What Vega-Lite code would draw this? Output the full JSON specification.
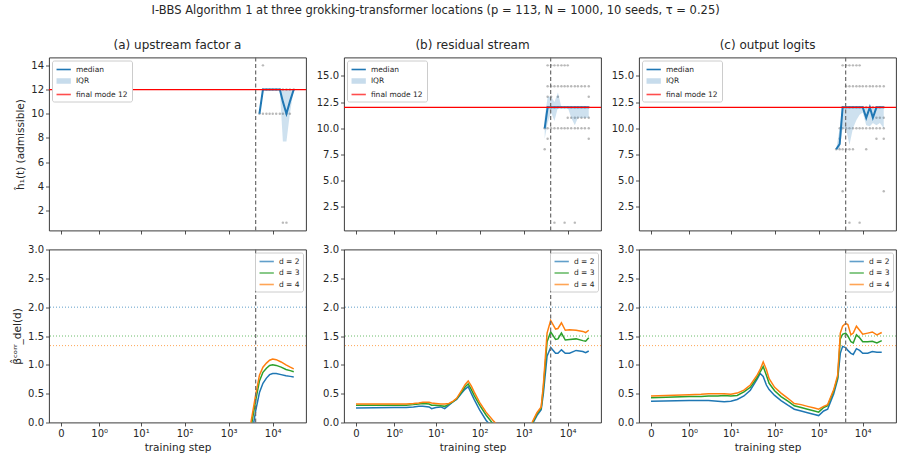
{
"$schema": "https://vega.github.io/schema/vega-lite/v6.json",
"autosize": {"type": "none"},
"padding": {"left": 49, "top": 57.5, "right": 854, "bottom": 404.5},
"background": "white",
"title": {"text": "I-BBS Algorithm 1 at three grokking-transformer locations (p = 113, N = 1000, 10 seeds, τ = 0.25)", "fontSize": 11.5, "anchor": "middle", "dx": -19, "offset": 22},
"datasets": {
"grok": [{"s": 4100}],
"mode": [{"y": 12, "lab": "final mode 12"}],
"refs": [{"k": "d2", "y": 2}, {"k": "d3", "y": 1.5}, {"k": "d4", "y": 1.3333}],
"top": [
{"p":"a","s":5000,"med":10,"q1":10,"q3":10},
{"p":"a","s":6000,"med":12,"q1":12,"q3":12},
{"p":"a","s":7200,"med":12,"q1":12,"q3":12},
{"p":"a","s":8500,"med":12,"q1":12,"q3":12},
{"p":"a","s":10000,"med":12,"q1":12,"q3":12},
{"p":"a","s":12000,"med":12,"q1":12,"q3":12},
{"p":"a","s":14500,"med":12,"q1":12,"q3":12},
{"p":"a","s":17000,"med":11,"q1":7.7,"q3":12},
{"p":"a","s":20500,"med":10,"q1":7.7,"q3":12},
{"p":"a","s":24500,"med":11,"q1":10,"q3":12},
{"p":"a","s":30000,"med":12,"q1":12,"q3":12},
{"p":"b","s":3000,"med":10,"q1":9,"q3":11},
{"p":"b","s":3500,"med":12,"q1":10.5,"q3":13},
{"p":"b","s":4200,"med":12,"q1":11.5,"q3":13},
{"p":"b","s":5000,"med":12,"q1":10.7,"q3":12.5},
{"p":"b","s":6000,"med":12,"q1":12,"q3":13.4},
{"p":"b","s":7200,"med":12,"q1":12,"q3":12},
{"p":"b","s":8500,"med":12,"q1":12,"q3":12},
{"p":"b","s":10000,"med":12,"q1":12,"q3":12},
{"p":"b","s":12000,"med":12,"q1":11,"q3":12},
{"p":"b","s":14500,"med":12,"q1":10.3,"q3":12},
{"p":"b","s":17000,"med":12,"q1":11,"q3":12},
{"p":"b","s":20500,"med":12,"q1":11,"q3":12},
{"p":"b","s":24500,"med":12,"q1":11,"q3":12},
{"p":"b","s":30000,"med":12,"q1":11,"q3":12},
{"p":"c","s":2500,"med":8,"q1":8,"q3":8},
{"p":"c","s":3000,"med":8.5,"q1":8,"q3":10},
{"p":"c","s":3500,"med":12,"q1":10,"q3":12},
{"p":"c","s":4200,"med":12,"q1":9.9,"q3":12},
{"p":"c","s":5000,"med":12,"q1":8.4,"q3":12},
{"p":"c","s":6000,"med":12,"q1":10,"q3":12},
{"p":"c","s":7200,"med":12,"q1":10.8,"q3":12},
{"p":"c","s":8500,"med":12,"q1":11.3,"q3":12},
{"p":"c","s":10000,"med":12,"q1":11.5,"q3":12},
{"p":"c","s":12000,"med":11,"q1":10.3,"q3":12},
{"p":"c","s":14500,"med":12,"q1":10.2,"q3":12},
{"p":"c","s":17000,"med":11,"q1":10.5,"q3":12},
{"p":"c","s":20500,"med":12,"q1":10.3,"q3":12},
{"p":"c","s":24500,"med":12,"q1":10.5,"q3":12},
{"p":"c","s":30000,"med":12,"q1":10,"q3":12}
],
"pts": [
{"p":"a","s":5000,"v":10},{"p":"a","s":6000,"v":14},{"p":"a","s":6000,"v":12},{"p":"a","s":6000,"v":10},
{"p":"a","s":7200,"v":12},{"p":"a","s":7200,"v":10},{"p":"a","s":8500,"v":12},{"p":"a","s":8500,"v":10},
{"p":"a","s":10000,"v":12},{"p":"a","s":10000,"v":10},{"p":"a","s":12000,"v":12},{"p":"a","s":12000,"v":10},
{"p":"a","s":14500,"v":12},{"p":"a","s":14500,"v":10},{"p":"a","s":17000,"v":12},{"p":"a","s":17000,"v":10},
{"p":"a","s":17000,"v":1},{"p":"a","s":20500,"v":12},{"p":"a","s":20500,"v":10},{"p":"a","s":20500,"v":1},
{"p":"a","s":24500,"v":12},{"p":"a","s":24500,"v":10},{"p":"a","s":30000,"v":12},
{"p":"b","s":3000,"v":8},{"p":"b","s":3000,"v":10},
{"p":"b","s":3500,"v":9},{"p":"b","s":3500,"v":10},{"p":"b","s":3500,"v":12},{"p":"b","s":3500,"v":13},{"p":"b","s":3500,"v":14},{"p":"b","s":3500,"v":16},
{"p":"b","s":4200,"v":10},{"p":"b","s":4200,"v":12},{"p":"b","s":4200,"v":13},{"p":"b","s":4200,"v":14},{"p":"b","s":4200,"v":16},
{"p":"b","s":5000,"v":1},{"p":"b","s":5000,"v":10},{"p":"b","s":5000,"v":12},{"p":"b","s":5000,"v":14},{"p":"b","s":5000,"v":16},
{"p":"b","s":6000,"v":10},{"p":"b","s":6000,"v":12},{"p":"b","s":6000,"v":13},{"p":"b","s":6000,"v":14},{"p":"b","s":6000,"v":16},
{"p":"b","s":7200,"v":10},{"p":"b","s":7200,"v":12},{"p":"b","s":7200,"v":14},{"p":"b","s":7200,"v":16},
{"p":"b","s":8500,"v":1},{"p":"b","s":8500,"v":10},{"p":"b","s":8500,"v":12},{"p":"b","s":8500,"v":14},{"p":"b","s":8500,"v":16},
{"p":"b","s":10000,"v":10},{"p":"b","s":10000,"v":11},{"p":"b","s":10000,"v":12},{"p":"b","s":10000,"v":14},{"p":"b","s":10000,"v":16},
{"p":"b","s":12000,"v":10},{"p":"b","s":12000,"v":11},{"p":"b","s":12000,"v":12},{"p":"b","s":12000,"v":14},
{"p":"b","s":14500,"v":1},{"p":"b","s":14500,"v":10},{"p":"b","s":14500,"v":11},{"p":"b","s":14500,"v":12},{"p":"b","s":14500,"v":14},
{"p":"b","s":17000,"v":10},{"p":"b","s":17000,"v":11},{"p":"b","s":17000,"v":12},{"p":"b","s":17000,"v":14},
{"p":"b","s":20500,"v":10},{"p":"b","s":20500,"v":11},{"p":"b","s":20500,"v":12},{"p":"b","s":20500,"v":14},
{"p":"b","s":24500,"v":10},{"p":"b","s":24500,"v":11},{"p":"b","s":24500,"v":12},{"p":"b","s":24500,"v":14},
{"p":"b","s":30000,"v":9},{"p":"b","s":30000,"v":10},{"p":"b","s":30000,"v":11},{"p":"b","s":30000,"v":12},{"p":"b","s":30000,"v":13},{"p":"b","s":30000,"v":14},
{"p":"c","s":2500,"v":8},{"p":"c","s":3000,"v":8},{"p":"c","s":3000,"v":9},{"p":"c","s":3000,"v":10},
{"p":"c","s":3500,"v":4},{"p":"c","s":3500,"v":8},{"p":"c","s":3500,"v":10},{"p":"c","s":3500,"v":12},{"p":"c","s":3500,"v":16},
{"p":"c","s":4200,"v":8},{"p":"c","s":4200,"v":10},{"p":"c","s":4200,"v":12},{"p":"c","s":4200,"v":14},{"p":"c","s":4200,"v":16},
{"p":"c","s":5000,"v":1},{"p":"c","s":5000,"v":8},{"p":"c","s":5000,"v":10},{"p":"c","s":5000,"v":12},{"p":"c","s":5000,"v":14},{"p":"c","s":5000,"v":16},
{"p":"c","s":6000,"v":8},{"p":"c","s":6000,"v":10},{"p":"c","s":6000,"v":12},{"p":"c","s":6000,"v":14},{"p":"c","s":6000,"v":16},
{"p":"c","s":7200,"v":10},{"p":"c","s":7200,"v":12},{"p":"c","s":7200,"v":14},{"p":"c","s":7200,"v":16},
{"p":"c","s":8500,"v":1},{"p":"c","s":8500,"v":10},{"p":"c","s":8500,"v":12},{"p":"c","s":8500,"v":14},{"p":"c","s":8500,"v":16},
{"p":"c","s":10000,"v":10},{"p":"c","s":10000,"v":12},{"p":"c","s":10000,"v":14},
{"p":"c","s":12000,"v":8},{"p":"c","s":12000,"v":10},{"p":"c","s":12000,"v":12},{"p":"c","s":12000,"v":14},
{"p":"c","s":14500,"v":10},{"p":"c","s":14500,"v":12},{"p":"c","s":14500,"v":14},
{"p":"c","s":17000,"v":10},{"p":"c","s":17000,"v":12},{"p":"c","s":17000,"v":14},
{"p":"c","s":20500,"v":9},{"p":"c","s":20500,"v":10},{"p":"c","s":20500,"v":11},{"p":"c","s":20500,"v":12},{"p":"c","s":20500,"v":14},
{"p":"c","s":24500,"v":10},{"p":"c","s":24500,"v":11},{"p":"c","s":24500,"v":12},{"p":"c","s":24500,"v":14},
{"p":"c","s":30000,"v":4},{"p":"c","s":30000,"v":9},{"p":"c","s":30000,"v":10},{"p":"c","s":30000,"v":11},{"p":"c","s":30000,"v":12},{"p":"c","s":30000,"v":14}
],
"bot": [
{"p":"a","s":2500,"d2":-1.2,"d3":-1.0,"d4":-0.9},
{"p":"a","s":3200,"d2":-0.3,"d3":-0.1,"d4":0.0},
{"p":"a","s":4100,"d2":0.2,"d3":0.38,"d4":0.48},
{"p":"a","s":5000,"d2":0.52,"d3":0.72,"d4":0.82},
{"p":"a","s":6000,"d2":0.68,"d3":0.87,"d4":0.96},
{"p":"a","s":7200,"d2":0.77,"d3":0.94,"d4":1.03},
{"p":"a","s":8500,"d2":0.83,"d3":0.99,"d4":1.08},
{"p":"a","s":10000,"d2":0.85,"d3":1.0,"d4":1.1},
{"p":"a","s":12000,"d2":0.85,"d3":0.99,"d4":1.09},
{"p":"a","s":15500,"d2":0.83,"d3":0.96,"d4":1.05},
{"p":"a","s":20000,"d2":0.81,"d3":0.92,"d4":1.0},
{"p":"a","s":25000,"d2":0.8,"d3":0.9,"d4":0.96},
{"p":"a","s":30000,"d2":0.79,"d3":0.88,"d4":0.93},
{"p":"b","s":0,"d2":0.25,"d3":0.30,"d4":0.32},
{"p":"b","s":1,"d2":0.26,"d3":0.30,"d4":0.32},
{"p":"b","s":2,"d2":0.26,"d3":0.30,"d4":0.32},
{"p":"b","s":3,"d2":0.27,"d3":0.31,"d4":0.33},
{"p":"b","s":4,"d2":0.28,"d3":0.32,"d4":0.34},
{"p":"b","s":5,"d2":0.28,"d3":0.33,"d4":0.35},
{"p":"b","s":7,"d2":0.27,"d3":0.32,"d4":0.35},
{"p":"b","s":8,"d2":0.24,"d3":0.30,"d4":0.34},
{"p":"b","s":10,"d2":0.26,"d3":0.30,"d4":0.33},
{"p":"b","s":13,"d2":0.27,"d3":0.29,"d4":0.32},
{"p":"b","s":16,"d2":0.24,"d3":0.28,"d4":0.32},
{"p":"b","s":20,"d2":0.30,"d3":0.32,"d4":0.33},
{"p":"b","s":25,"d2":0.36,"d3":0.36,"d4":0.37},
{"p":"b","s":30,"d2":0.40,"d3":0.41,"d4":0.42},
{"p":"b","s":40,"d2":0.52,"d3":0.54,"d4":0.57},
{"p":"b","s":47,"d2":0.58,"d3":0.62,"d4":0.66},
{"p":"b","s":55,"d2":0.62,"d3":0.67,"d4":0.72},
{"p":"b","s":65,"d2":0.50,"d3":0.57,"d4":0.63},
{"p":"b","s":75,"d2":0.40,"d3":0.47,"d4":0.53},
{"p":"b","s":100,"d2":0.22,"d3":0.30,"d4":0.35},
{"p":"b","s":140,"d2":0.04,"d3":0.13,"d4":0.18},
{"p":"b","s":200,"d2":-0.10,"d3":-0.02,"d4":0.04},
{"p":"b","s":280,"d2":-0.20,"d3":-0.15,"d4":-0.08},
{"p":"b","s":400,"d2":-0.30,"d3":-0.25,"d4":-0.20},
{"p":"b","s":600,"d2":-0.35,"d3":-0.30,"d4":-0.25},
{"p":"b","s":900,"d2":-0.35,"d3":-0.30,"d4":-0.25},
{"p":"b","s":1300,"d2":-0.20,"d3":-0.18,"d4":-0.15},
{"p":"b","s":1600,"d2":-0.02,"d3":0.0,"d4":0.02},
{"p":"b","s":2000,"d2":0.12,"d3":0.15,"d4":0.17},
{"p":"b","s":2500,"d2":0.22,"d3":0.25,"d4":0.27},
{"p":"b","s":2800,"d2":0.50,"d3":0.60,"d4":0.65},
{"p":"b","s":3400,"d2":1.15,"d3":1.40,"d4":1.55},
{"p":"b","s":4100,"d2":1.30,"d3":1.57,"d4":1.77},
{"p":"b","s":5300,"d2":1.20,"d3":1.44,"d4":1.62},
{"p":"b","s":6000,"d2":1.20,"d3":1.45,"d4":1.63},
{"p":"b","s":7200,"d2":1.26,"d3":1.55,"d4":1.73},
{"p":"b","s":8800,"d2":1.20,"d3":1.43,"d4":1.60},
{"p":"b","s":11000,"d2":1.20,"d3":1.44,"d4":1.61},
{"p":"b","s":15500,"d2":1.25,"d3":1.45,"d4":1.60},
{"p":"b","s":22000,"d2":1.23,"d3":1.42,"d4":1.58},
{"p":"b","s":25500,"d2":1.21,"d3":1.41,"d4":1.56},
{"p":"b","s":30000,"d2":1.24,"d3":1.47,"d4":1.60},
{"p":"c","s":0,"d2":0.37,"d3":0.43,"d4":0.46},
{"p":"c","s":1,"d2":0.38,"d3":0.45,"d4":0.48},
{"p":"c","s":2,"d2":0.38,"d3":0.45,"d4":0.49},
{"p":"c","s":3,"d2":0.38,"d3":0.46,"d4":0.50},
{"p":"c","s":5,"d2":0.37,"d3":0.46,"d4":0.50},
{"p":"c","s":7,"d2":0.36,"d3":0.47,"d4":0.50},
{"p":"c","s":10,"d2":0.37,"d3":0.46,"d4":0.49},
{"p":"c","s":14,"d2":0.40,"d3":0.47,"d4":0.51},
{"p":"c","s":20,"d2":0.46,"d3":0.53,"d4":0.56},
{"p":"c","s":28,"d2":0.56,"d3":0.61,"d4":0.65},
{"p":"c","s":40,"d2":0.75,"d3":0.78,"d4":0.82},
{"p":"c","s":47,"d2":0.85,"d3":0.88,"d4":0.92},
{"p":"c","s":55,"d2":0.80,"d3":0.97,"d4":1.05},
{"p":"c","s":65,"d2":0.65,"d3":0.82,"d4":0.92},
{"p":"c","s":75,"d2":0.57,"d3":0.68,"d4":0.76},
{"p":"c","s":100,"d2":0.47,"d3":0.55,"d4":0.61},
{"p":"c","s":140,"d2":0.38,"d3":0.45,"d4":0.51},
{"p":"c","s":200,"d2":0.30,"d3":0.37,"d4":0.42},
{"p":"c","s":280,"d2":0.23,"d3":0.29,"d4":0.33},
{"p":"c","s":400,"d2":0.20,"d3":0.26,"d4":0.31},
{"p":"c","s":560,"d2":0.17,"d3":0.23,"d4":0.28},
{"p":"c","s":800,"d2":0.14,"d3":0.20,"d4":0.25},
{"p":"c","s":1000,"d2":0.12,"d3":0.18,"d4":0.23},
{"p":"c","s":1300,"d2":0.20,"d3":0.26,"d4":0.28},
{"p":"c","s":1600,"d2":0.23,"d3":0.29,"d4":0.31},
{"p":"c","s":2200,"d2":0.50,"d3":0.55,"d4":0.57},
{"p":"c","s":2700,"d2":0.75,"d3":0.78,"d4":0.82},
{"p":"c","s":3100,"d2":1.20,"d3":1.45,"d4":1.55},
{"p":"c","s":3500,"d2":1.32,"d3":1.53,"d4":1.67},
{"p":"c","s":4100,"d2":1.30,"d3":1.55,"d4":1.72},
{"p":"c","s":4600,"d2":1.25,"d3":1.50,"d4":1.70},
{"p":"c","s":5400,"d2":1.20,"d3":1.40,"d4":1.52},
{"p":"c","s":6100,"d2":1.18,"d3":1.38,"d4":1.55},
{"p":"c","s":7200,"d2":1.28,"d3":1.52,"d4":1.67},
{"p":"c","s":8500,"d2":1.25,"d3":1.47,"d4":1.60},
{"p":"c","s":10000,"d2":1.20,"d3":1.40,"d4":1.53},
{"p":"c","s":13000,"d2":1.20,"d3":1.40,"d4":1.55},
{"p":"c","s":16500,"d2":1.23,"d3":1.41,"d4":1.57},
{"p":"c","s":21000,"d2":1.22,"d3":1.38,"d4":1.52},
{"p":"c","s":27000,"d2":1.22,"d3":1.42,"d4":1.56}
]
},
"columns": 3,
"spacing": {"row": 19, "column": 38},
"bounds": "flush",
"resolve": {"scale": {"color": "independent", "shape": "independent"}, "legend": {"color": "independent", "shape": "independent"}},
"concat": [
{"width": 257, "height": 173, "title": {"text": "(a) upstream factor a"},
 "layer": [
  {"data": {"name": "pts"}, "transform": [{"filter": "datum.p === 'a'"}],
   "mark": {"type": "point", "filled": true, "size": 6, "color": "#7f7f7f", "opacity": 0.55, "clip": true},
   "encoding": {"x": {"field": "s", "type": "quantitative", "scale": {"type": "symlog", "constant": 0.157, "domain": [-0.137, 56900], "nice": false, "zero": false}, "axis": {"values": [0,1,10,100,1000,10000], "labels": false, "title": null}},
                "y": {"field": "v", "type": "quantitative", "scale": {"domain": [0.35, 14.65], "nice": false, "zero": false}, "axis": {"values": [2,4,6,8,10,12,14], "title": "ĥ₁(t) (admissible)", "titlePadding": 5}}}},
  {"data": {"name": "top"}, "transform": [{"filter": "datum.p === 'a'"}],
   "mark": {"type": "area", "opacity": 0.22, "color": "#1f77b4", "clip": true},
   "encoding": {"x": {"field": "s", "type": "quantitative", "scale": {"type": "symlog", "constant": 0.157, "domain": [-0.137, 56900], "nice": false, "zero": false}, "axis": {"values": [0,1,10,100,1000,10000], "labels": false, "title": null}},
                "y": {"field": "q1", "type": "quantitative", "scale": {"domain": [0.35, 14.65], "nice": false, "zero": false}, "axis": {"values": [2,4,6,8,10,12,14], "title": "ĥ₁(t) (admissible)", "titlePadding": 5}},
                "y2": {"field": "q3"}}},
  {"data": {"name": "top"}, "transform": [{"filter": "datum.p === 'a'"}],
   "mark": {"type": "line", "strokeWidth": 2, "color": "#1f77b4", "clip": true},
   "encoding": {"x": {"field": "s", "type": "quantitative", "scale": {"type": "symlog", "constant": 0.157, "domain": [-0.137, 56900], "nice": false, "zero": false}, "axis": {"values": [0,1,10,100,1000,10000], "labels": false, "title": null}},
                "y": {"field": "med", "type": "quantitative", "scale": {"domain": [0.35, 14.65], "nice": false, "zero": false}, "axis": {"values": [2,4,6,8,10,12,14], "title": "ĥ₁(t) (admissible)", "titlePadding": 5}}}},
  {"data": {"name": "mode"}, "mark": {"type": "rule", "strokeWidth": 1.2, "color": "#ff0000"},
   "encoding": {"y": {"field": "y", "type": "quantitative", "scale": {"domain": [0.35, 14.65], "nice": false, "zero": false}, "axis": {"values": [2,4,6,8,10,12,14], "title": "ĥ₁(t) (admissible)", "titlePadding": 5}}}},
  {"data": {"name": "grok"}, "mark": {"type": "rule", "color": "#6b6b6b", "strokeWidth": 1.2, "strokeDash": [4, 2.5]},
   "encoding": {"x": {"field": "s", "type": "quantitative", "scale": {"type": "symlog", "constant": 0.157, "domain": [-0.137, 56900], "nice": false, "zero": false}, "axis": {"values": [0,1,10,100,1000,10000], "labels": false, "title": null}}}},
  {"data": {"name": "mode"}, "mark": {"type": "point", "opacity": 0, "filled": false},
   "encoding": {"y": {"field": "y", "type": "quantitative", "scale": {"domain": [0.35, 14.65], "nice": false, "zero": false}, "axis": {"values": [2,4,6,8,10,12,14], "title": "ĥ₁(t) (admissible)", "titlePadding": 5}},
                "color": {"field": "lab", "type": "nominal", "scale": {"domain": ["median", "IQR", "final mode 12"], "range": ["#1f77b4", "#c7dcec", "#ff4d4d"]}, "legend": {"orient": "top-left", "offset": 3, "title": null, "symbolSize": 80, "symbolStrokeWidth": 1.6, "symbolOpacity": 1, "padding": 3.5, "rowPadding": 2.5, "labelOffset": 9.4}},
                "shape": {"field": "lab", "type": "nominal", "scale": {"domain": ["median", "IQR", "final mode 12"], "range": ["M-1,0H2.2", "M-1,-0.45H2.2M-1,-0.225H2.2M-1,0H2.2M-1,0.225H2.2M-1,0.45H2.2", "M-1,0H2.2"]}, "legend": {"orient": "top-left", "offset": 3, "title": null, "symbolSize": 80, "symbolStrokeWidth": 1.6, "symbolOpacity": 1, "padding": 3.5, "rowPadding": 2.5, "labelOffset": 9.4}}}}
 ]},
{"width": 257, "height": 173, "title": {"text": "(b) residual stream"},
 "layer": [
  {"data": {"name": "pts"}, "transform": [{"filter": "datum.p === 'b'"}],
   "mark": {"type": "point", "filled": true, "size": 6, "color": "#7f7f7f", "opacity": 0.55, "clip": true},
   "encoding": {"x": {"field": "s", "type": "quantitative", "scale": {"type": "symlog", "constant": 0.157, "domain": [-0.137, 56900], "nice": false, "zero": false}, "axis": {"values": [0,1,10,100,1000,10000], "labels": false, "title": null}},
                "y": {"field": "v", "type": "quantitative", "scale": {"domain": [0.25, 16.75], "nice": false, "zero": false}, "axis": {"values": [2.5,5,7.5,10,12.5,15], "format": ".1f", "title": null}}}},
  {"data": {"name": "top"}, "transform": [{"filter": "datum.p === 'b'"}],
   "mark": {"type": "area", "opacity": 0.22, "color": "#1f77b4", "clip": true},
   "encoding": {"x": {"field": "s", "type": "quantitative", "scale": {"type": "symlog", "constant": 0.157, "domain": [-0.137, 56900], "nice": false, "zero": false}, "axis": {"values": [0,1,10,100,1000,10000], "labels": false, "title": null}},
                "y": {"field": "q1", "type": "quantitative", "scale": {"domain": [0.25, 16.75], "nice": false, "zero": false}, "axis": {"values": [2.5,5,7.5,10,12.5,15], "format": ".1f", "title": null}},
                "y2": {"field": "q3"}}},
  {"data": {"name": "top"}, "transform": [{"filter": "datum.p === 'b'"}],
   "mark": {"type": "line", "strokeWidth": 2, "color": "#1f77b4", "clip": true},
   "encoding": {"x": {"field": "s", "type": "quantitative", "scale": {"type": "symlog", "constant": 0.157, "domain": [-0.137, 56900], "nice": false, "zero": false}, "axis": {"values": [0,1,10,100,1000,10000], "labels": false, "title": null}},
                "y": {"field": "med", "type": "quantitative", "scale": {"domain": [0.25, 16.75], "nice": false, "zero": false}, "axis": {"values": [2.5,5,7.5,10,12.5,15], "format": ".1f", "title": null}}}},
  {"data": {"name": "mode"}, "mark": {"type": "rule", "strokeWidth": 1.2, "color": "#ff0000"},
   "encoding": {"y": {"field": "y", "type": "quantitative", "scale": {"domain": [0.25, 16.75], "nice": false, "zero": false}, "axis": {"values": [2.5,5,7.5,10,12.5,15], "format": ".1f", "title": null}}}},
  {"data": {"name": "grok"}, "mark": {"type": "rule", "color": "#6b6b6b", "strokeWidth": 1.2, "strokeDash": [4, 2.5]},
   "encoding": {"x": {"field": "s", "type": "quantitative", "scale": {"type": "symlog", "constant": 0.157, "domain": [-0.137, 56900], "nice": false, "zero": false}, "axis": {"values": [0,1,10,100,1000,10000], "labels": false, "title": null}}}},
  {"data": {"name": "mode"}, "mark": {"type": "point", "opacity": 0, "filled": false},
   "encoding": {"y": {"field": "y", "type": "quantitative", "scale": {"domain": [0.25, 16.75], "nice": false, "zero": false}, "axis": {"values": [2.5,5,7.5,10,12.5,15], "format": ".1f", "title": null}},
                "color": {"field": "lab", "type": "nominal", "scale": {"domain": ["median", "IQR", "final mode 12"], "range": ["#1f77b4", "#c7dcec", "#ff4d4d"]}, "legend": {"orient": "top-left", "offset": 3, "title": null, "symbolSize": 80, "symbolStrokeWidth": 1.6, "symbolOpacity": 1, "padding": 3.5, "rowPadding": 2.5, "labelOffset": 9.4}},
                "shape": {"field": "lab", "type": "nominal", "scale": {"domain": ["median", "IQR", "final mode 12"], "range": ["M-1,0H2.2", "M-1,-0.45H2.2M-1,-0.225H2.2M-1,0H2.2M-1,0.225H2.2M-1,0.45H2.2", "M-1,0H2.2"]}, "legend": {"orient": "top-left", "offset": 3, "title": null, "symbolSize": 80, "symbolStrokeWidth": 1.6, "symbolOpacity": 1, "padding": 3.5, "rowPadding": 2.5, "labelOffset": 9.4}}}}
 ]},
{"width": 257, "height": 173, "title": {"text": "(c) output logits"},
 "layer": [
  {"data": {"name": "pts"}, "transform": [{"filter": "datum.p === 'c'"}],
   "mark": {"type": "point", "filled": true, "size": 6, "color": "#7f7f7f", "opacity": 0.55, "clip": true},
   "encoding": {"x": {"field": "s", "type": "quantitative", "scale": {"type": "symlog", "constant": 0.157, "domain": [-0.137, 56900], "nice": false, "zero": false}, "axis": {"values": [0,1,10,100,1000,10000], "labels": false, "title": null}},
                "y": {"field": "v", "type": "quantitative", "scale": {"domain": [0.25, 16.75], "nice": false, "zero": false}, "axis": {"values": [2.5,5,7.5,10,12.5,15], "format": ".1f", "title": null}}}},
  {"data": {"name": "top"}, "transform": [{"filter": "datum.p === 'c'"}],
   "mark": {"type": "area", "opacity": 0.22, "color": "#1f77b4", "clip": true},
   "encoding": {"x": {"field": "s", "type": "quantitative", "scale": {"type": "symlog", "constant": 0.157, "domain": [-0.137, 56900], "nice": false, "zero": false}, "axis": {"values": [0,1,10,100,1000,10000], "labels": false, "title": null}},
                "y": {"field": "q1", "type": "quantitative", "scale": {"domain": [0.25, 16.75], "nice": false, "zero": false}, "axis": {"values": [2.5,5,7.5,10,12.5,15], "format": ".1f", "title": null}},
                "y2": {"field": "q3"}}},
  {"data": {"name": "top"}, "transform": [{"filter": "datum.p === 'c'"}],
   "mark": {"type": "line", "strokeWidth": 2, "color": "#1f77b4", "clip": true},
   "encoding": {"x": {"field": "s", "type": "quantitative", "scale": {"type": "symlog", "constant": 0.157, "domain": [-0.137, 56900], "nice": false, "zero": false}, "axis": {"values": [0,1,10,100,1000,10000], "labels": false, "title": null}},
                "y": {"field": "med", "type": "quantitative", "scale": {"domain": [0.25, 16.75], "nice": false, "zero": false}, "axis": {"values": [2.5,5,7.5,10,12.5,15], "format": ".1f", "title": null}}}},
  {"data": {"name": "mode"}, "mark": {"type": "rule", "strokeWidth": 1.2, "color": "#ff0000"},
   "encoding": {"y": {"field": "y", "type": "quantitative", "scale": {"domain": [0.25, 16.75], "nice": false, "zero": false}, "axis": {"values": [2.5,5,7.5,10,12.5,15], "format": ".1f", "title": null}}}},
  {"data": {"name": "grok"}, "mark": {"type": "rule", "color": "#6b6b6b", "strokeWidth": 1.2, "strokeDash": [4, 2.5]},
   "encoding": {"x": {"field": "s", "type": "quantitative", "scale": {"type": "symlog", "constant": 0.157, "domain": [-0.137, 56900], "nice": false, "zero": false}, "axis": {"values": [0,1,10,100,1000,10000], "labels": false, "title": null}}}},
  {"data": {"name": "mode"}, "mark": {"type": "point", "opacity": 0, "filled": false},
   "encoding": {"y": {"field": "y", "type": "quantitative", "scale": {"domain": [0.25, 16.75], "nice": false, "zero": false}, "axis": {"values": [2.5,5,7.5,10,12.5,15], "format": ".1f", "title": null}},
                "color": {"field": "lab", "type": "nominal", "scale": {"domain": ["median", "IQR", "final mode 12"], "range": ["#1f77b4", "#c7dcec", "#ff4d4d"]}, "legend": {"orient": "top-left", "offset": 3, "title": null, "symbolSize": 80, "symbolStrokeWidth": 1.6, "symbolOpacity": 1, "padding": 3.5, "rowPadding": 2.5, "labelOffset": 9.4}},
                "shape": {"field": "lab", "type": "nominal", "scale": {"domain": ["median", "IQR", "final mode 12"], "range": ["M-1,0H2.2", "M-1,-0.45H2.2M-1,-0.225H2.2M-1,0H2.2M-1,0.225H2.2M-1,0.45H2.2", "M-1,0H2.2"]}, "legend": {"orient": "top-left", "offset": 3, "title": null, "symbolSize": 80, "symbolStrokeWidth": 1.6, "symbolOpacity": 1, "padding": 3.5, "rowPadding": 2.5, "labelOffset": 9.4}}}}
 ]},
{"width": 257, "height": 173,
 "layer": [
  {"data": {"name": "bot"}, "transform": [{"filter": "datum.p === 'a'"}, {"fold": ["d2", "d3", "d4"], "as": ["k", "v"]}],
   "mark": {"type": "line", "strokeWidth": 1.5, "clip": true},
   "encoding": {"x": {"field": "s", "type": "quantitative", "scale": {"type": "symlog", "constant": 0.157, "domain": [-0.137, 56900], "nice": false, "zero": false}, "axis": {"values": [0,1,10,100,1000,10000], "title": "training step", "labelExpr": "datum.value === 0 ? '0' : datum.value === 1 ? '10⁰' : datum.value === 10 ? '10¹' : datum.value === 100 ? '10²' : datum.value === 1000 ? '10³' : '10⁴'"}},
                "y": {"field": "v", "type": "quantitative", "scale": {"domain": [0, 3], "nice": false, "zero": false}, "axis": {"values": [0,0.5,1,1.5,2,2.5,3], "format": ".1f", "title": "β̂ᶜᵒʳʳ_del(d)", "titlePadding": 5}},
                "color": {"field": "k", "type": "nominal", "scale": {"domain": ["d2", "d3", "d4"], "range": ["#1f77b4", "#2ca02c", "#ff7f0e"]},
                          "legend": {"orient": "top-right", "offset": 3, "title": null, "labelExpr": "'d = ' + substring(datum.label, 1)", "symbolType": "M-1,0H2.2", "symbolSize": 80, "symbolStrokeWidth": 1.6, "symbolOpacity": 1, "padding": 3.5, "rowPadding": 2.5, "labelOffset": 9.4}}}},
  {"data": {"name": "refs"}, "mark": {"type": "rule", "strokeWidth": 1, "strokeDash": [1, 2], "opacity": 0.7},
   "encoding": {"y": {"field": "y", "type": "quantitative", "scale": {"domain": [0, 3], "nice": false, "zero": false}, "axis": {"values": [0,0.5,1,1.5,2,2.5,3], "format": ".1f", "title": "β̂ᶜᵒʳʳ_del(d)", "titlePadding": 5}},
                "color": {"field": "k", "type": "nominal", "scale": {"domain": ["d2", "d3", "d4"], "range": ["#1f77b4", "#2ca02c", "#ff7f0e"]}}}},
  {"data": {"name": "grok"}, "mark": {"type": "rule", "color": "#6b6b6b", "strokeWidth": 1.2, "strokeDash": [4, 2.5]},
   "encoding": {"x": {"field": "s", "type": "quantitative", "scale": {"type": "symlog", "constant": 0.157, "domain": [-0.137, 56900], "nice": false, "zero": false}, "axis": {"values": [0,1,10,100,1000,10000], "title": "training step", "labelExpr": "datum.value === 0 ? '0' : datum.value === 1 ? '10⁰' : datum.value === 10 ? '10¹' : datum.value === 100 ? '10²' : datum.value === 1000 ? '10³' : '10⁴'"}}}}
 ]},
{"width": 257, "height": 173,
 "layer": [
  {"data": {"name": "bot"}, "transform": [{"filter": "datum.p === 'b'"}, {"fold": ["d2", "d3", "d4"], "as": ["k", "v"]}],
   "mark": {"type": "line", "strokeWidth": 1.5, "clip": true},
   "encoding": {"x": {"field": "s", "type": "quantitative", "scale": {"type": "symlog", "constant": 0.157, "domain": [-0.137, 56900], "nice": false, "zero": false}, "axis": {"values": [0,1,10,100,1000,10000], "title": "training step", "labelExpr": "datum.value === 0 ? '0' : datum.value === 1 ? '10⁰' : datum.value === 10 ? '10¹' : datum.value === 100 ? '10²' : datum.value === 1000 ? '10³' : '10⁴'"}},
                "y": {"field": "v", "type": "quantitative", "scale": {"domain": [0, 3], "nice": false, "zero": false}, "axis": {"values": [0,0.5,1,1.5,2,2.5,3], "format": ".1f", "title": null}},
                "color": {"field": "k", "type": "nominal", "scale": {"domain": ["d2", "d3", "d4"], "range": ["#1f77b4", "#2ca02c", "#ff7f0e"]},
                          "legend": {"orient": "top-right", "offset": 3, "title": null, "labelExpr": "'d = ' + substring(datum.label, 1)", "symbolType": "M-1,0H2.2", "symbolSize": 80, "symbolStrokeWidth": 1.6, "symbolOpacity": 1, "padding": 3.5, "rowPadding": 2.5, "labelOffset": 9.4}}}},
  {"data": {"name": "refs"}, "mark": {"type": "rule", "strokeWidth": 1, "strokeDash": [1, 2], "opacity": 0.7},
   "encoding": {"y": {"field": "y", "type": "quantitative", "scale": {"domain": [0, 3], "nice": false, "zero": false}, "axis": {"values": [0,0.5,1,1.5,2,2.5,3], "format": ".1f", "title": null}},
                "color": {"field": "k", "type": "nominal", "scale": {"domain": ["d2", "d3", "d4"], "range": ["#1f77b4", "#2ca02c", "#ff7f0e"]}}}},
  {"data": {"name": "grok"}, "mark": {"type": "rule", "color": "#6b6b6b", "strokeWidth": 1.2, "strokeDash": [4, 2.5]},
   "encoding": {"x": {"field": "s", "type": "quantitative", "scale": {"type": "symlog", "constant": 0.157, "domain": [-0.137, 56900], "nice": false, "zero": false}, "axis": {"values": [0,1,10,100,1000,10000], "title": "training step", "labelExpr": "datum.value === 0 ? '0' : datum.value === 1 ? '10⁰' : datum.value === 10 ? '10¹' : datum.value === 100 ? '10²' : datum.value === 1000 ? '10³' : '10⁴'"}}}}
 ]},
{"width": 257, "height": 173,
 "layer": [
  {"data": {"name": "bot"}, "transform": [{"filter": "datum.p === 'c'"}, {"fold": ["d2", "d3", "d4"], "as": ["k", "v"]}],
   "mark": {"type": "line", "strokeWidth": 1.5, "clip": true},
   "encoding": {"x": {"field": "s", "type": "quantitative", "scale": {"type": "symlog", "constant": 0.157, "domain": [-0.137, 56900], "nice": false, "zero": false}, "axis": {"values": [0,1,10,100,1000,10000], "title": "training step", "labelExpr": "datum.value === 0 ? '0' : datum.value === 1 ? '10⁰' : datum.value === 10 ? '10¹' : datum.value === 100 ? '10²' : datum.value === 1000 ? '10³' : '10⁴'"}},
                "y": {"field": "v", "type": "quantitative", "scale": {"domain": [0, 3], "nice": false, "zero": false}, "axis": {"values": [0,0.5,1,1.5,2,2.5,3], "format": ".1f", "title": null}},
                "color": {"field": "k", "type": "nominal", "scale": {"domain": ["d2", "d3", "d4"], "range": ["#1f77b4", "#2ca02c", "#ff7f0e"]},
                          "legend": {"orient": "top-right", "offset": 3, "title": null, "labelExpr": "'d = ' + substring(datum.label, 1)", "symbolType": "M-1,0H2.2", "symbolSize": 80, "symbolStrokeWidth": 1.6, "symbolOpacity": 1, "padding": 3.5, "rowPadding": 2.5, "labelOffset": 9.4}}}},
  {"data": {"name": "refs"}, "mark": {"type": "rule", "strokeWidth": 1, "strokeDash": [1, 2], "opacity": 0.7},
   "encoding": {"y": {"field": "y", "type": "quantitative", "scale": {"domain": [0, 3], "nice": false, "zero": false}, "axis": {"values": [0,0.5,1,1.5,2,2.5,3], "format": ".1f", "title": null}},
                "color": {"field": "k", "type": "nominal", "scale": {"domain": ["d2", "d3", "d4"], "range": ["#1f77b4", "#2ca02c", "#ff7f0e"]}}}},
  {"data": {"name": "grok"}, "mark": {"type": "rule", "color": "#6b6b6b", "strokeWidth": 1.2, "strokeDash": [4, 2.5]},
   "encoding": {"x": {"field": "s", "type": "quantitative", "scale": {"type": "symlog", "constant": 0.157, "domain": [-0.137, 56900], "nice": false, "zero": false}, "axis": {"values": [0,1,10,100,1000,10000], "title": "training step", "labelExpr": "datum.value === 0 ? '0' : datum.value === 1 ? '10⁰' : datum.value === 10 ? '10¹' : datum.value === 100 ? '10²' : datum.value === 1000 ? '10³' : '10⁴'"}}}}
 ]}
],
"config": {
 "font": "DejaVu Sans",
 "view": {"stroke": "#262626", "strokeWidth": 0.9},
 "axis": {"labelFont": "DejaVu Sans", "labelFontSize": 10, "labelColor": "#262626", "tickColor": "#262626", "tickSize": 3.5, "tickWidth": 0.8, "labelPadding": 2, "titleFont": "DejaVu Sans", "titleFontSize": 10.5, "titleFontWeight": "normal", "titleColor": "#262626", "grid": false, "domain": false},
 "title": {"font": "DejaVu Sans", "fontSize": 12, "fontWeight": "normal", "color": "#262626", "offset": 5},
 "legend": {"labelFont": "DejaVu Sans", "labelFontSize": 7.5, "labelColor": "#262626", "strokeColor": "#cccccc", "fillColor": "white", "cornerRadius": 2}
}
}
